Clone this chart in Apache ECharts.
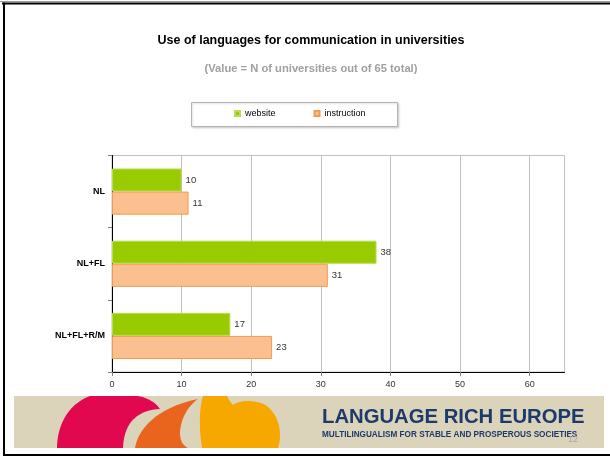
<!DOCTYPE html>
<html>
<head>
<meta charset="utf-8">
<script src="https://cdn.jsdelivr.net/npm/echarts@6/dist/echarts.min.js"></script>
<style>
html,body{margin:0;padding:0;background:#fff;}
#chart{width:610px;height:459px;}
</style>
</head>
<body>
<div id="chart"></div>
<script>
const categories = ['NL', 'NL+FL', 'NL+FL+R/M'];
const website = [10, 38, 17];
const instruction = [11, 31, 23];
const seriesNames = ['website', 'instruction'];
const axisMin = 0, axisMax = 65, axisStep = 10;

const chart = echarts.init(document.getElementById('chart'), null, {renderer: 'canvas'});
const FONT = '"Liberation Sans", Arial, sans-serif';

// decorative logo outlines: start point + list of cubic segments [c1x,c1y,c2x,c2y,x,y] or lines [x,y]
function outline(start, segs) {
  const pts = [start.slice()];
  let cur = start.slice();
  segs.forEach(s => {
    if (s.length === 2) { pts.push(s.slice()); cur = s.slice(); return; }
    for (let i = 1; i <= 16; i++) {
      const t = i / 16, u = 1 - t;
      const x = u*u*u*cur[0] + 3*u*u*t*s[0] + 3*u*t*t*s[2] + t*t*t*s[4];
      const y = u*u*u*cur[1] + 3*u*u*t*s[1] + 3*u*t*t*s[3] + t*t*t*s[5];
      pts.push([x, y]);
    }
    cur = [s[4], s[5]];
  });
  return pts;
}
const redShape = outline([57,448], [[57,428,66,405,90,396],[138,396],[148,398,155,402,160,409],[140,410,124,420,123,448]]);
const orangeShape = outline([135,448], [[138,430,155,408,198,399],[188,406,181,418,180,432],[180,440,182,445,188,448]]);
const yellowShape = outline([202,448], [[199,430,199,408,203,396],[227,396],[229,400,231,403,233,405],[238,401,248,400,257,402],[270,404,280,418,280,435],[280,441,279,445,278,448]]);

const option = {
  backgroundColor: '#ffffff',
  animation: false,
  textStyle: {fontFamily: FONT},
  title: [
    {
      text: 'Use of languages for communication in universities',
      left: 306, top: 29, textAlign: 'center',
      textStyle: {fontFamily: FONT, fontSize: 12.5, fontWeight: 'bold', color: '#000'}
    },
    {
      text: '(Value = N of universities out of 65 total)',
      left: 306, top: 58, textAlign: 'center',
      textStyle: {fontFamily: FONT, fontSize: 11.2, fontWeight: 'bold', color: '#a0a0a0'}
    }
  ],
  legend: {
    data: seriesNames,
    left: 229, top: 104,
    icon: 'rect',
    itemWidth: 5, itemHeight: 5,
    itemGap: 38,
    textStyle: {fontFamily: FONT, fontSize: 9, color: '#000'}
  },
  grid: {
    left: 112, right: 45.5, top: 155.5, bottom: 87,
    show: true, borderColor: '#c0c0c0', borderWidth: 1,
    containLabel: false
  },
  xAxis: {
    type: 'value',
    min: axisMin, max: axisMax, interval: axisStep,
    axisLine: {show: true, lineStyle: {color: '#000', width: 1}},
    axisTick: {show: true, length: 4, lineStyle: {color: '#808080'}},
    splitLine: {show: true, lineStyle: {color: '#c0c0c0', width: 1}},
    axisLabel: {fontFamily: FONT, fontSize: 9, color: '#333', margin: 8, showMaxLabel: false}
  },
  yAxis: {
    type: 'category',
    data: categories,
    inverse: true,
    axisLine: {show: true, lineStyle: {color: '#000', width: 1}},
    axisTick: {show: true, length: 4, lineStyle: {color: '#808080'}},
    splitLine: {show: false},
    axisLabel: {fontFamily: FONT, fontSize: 9, fontWeight: 'bold', color: '#000', margin: 7}
  },
  series: [
    {
      name: seriesNames[0], type: 'bar', data: website,
      barGap: '0%', barCategoryGap: '36%',
      itemStyle: {color: '#99cc00', borderColor: '#b8dc55', borderWidth: 1},
      label: {show: true, position: 'right', distance: 4, fontFamily: FONT, fontSize: 9.5, color: '#333'}
    },
    {
      name: seriesNames[1], type: 'bar', data: instruction,
      barGap: '0%', barCategoryGap: '36%',
      itemStyle: {color: '#fac090', borderColor: '#f39a4e', borderWidth: 1},
      label: {show: true, position: 'right', distance: 4, fontFamily: FONT, fontSize: 9.5, color: '#333'}
    }
  ],
  graphic: [
    {type: 'line', shape: {x1: 0, y1: 1.5, x2: 610, y2: 1.5}, style: {stroke: '#9a9a9a', lineWidth: 1}, silent: true},
    {type: 'line', shape: {x1: 2, y1: 3.5, x2: 610, y2: 3.5}, style: {stroke: '#000', lineWidth: 2}, silent: true},
    {type: 'line', shape: {x1: 4, y1: 2.5, x2: 4, y2: 456}, style: {stroke: '#000', lineWidth: 2}, silent: true},
    {type: 'line', shape: {x1: 3, y1: 455, x2: 610, y2: 455}, style: {stroke: '#000', lineWidth: 2}, silent: true},
    {type: 'rect', z: -1, shape: {x: 191.5, y: 102.5, width: 206, height: 24},
      style: {fill: '#fff', stroke: '#b4b4b4', lineWidth: 1, shadowBlur: 2, shadowColor: 'rgba(0,0,0,0.15)', shadowOffsetX: 1, shadowOffsetY: 1}, silent: true},
    {type: 'rect', shape: {x: 14, y: 396, width: 590, height: 52}, style: {fill: '#dcd3bb'}, silent: true},
    {type: 'polygon', shape: {points: redShape}, style: {fill: '#e1084f'}, silent: true},
    {type: 'polygon', shape: {points: orangeShape}, style: {fill: '#e9641c'}, silent: true},
    {type: 'polygon', shape: {points: yellowShape}, style: {fill: '#f6a800'}, silent: true},
    {type: 'text', x: 322, y: 417, style: {text: 'LANGUAGE RICH EUROPE', fill: '#1c3a6c', font: 'bold 20.3px "Liberation Sans", Arial, sans-serif', verticalAlign: 'middle'}, silent: true},
    {type: 'text', x: 322, y: 435, style: {text: 'MULTILINGUALISM FOR STABLE AND PROSPEROUS SOCIETIES', fill: '#1c3a6c', font: 'bold 8.2px "Liberation Sans", Arial, sans-serif', verticalAlign: 'middle'}, silent: true},
    {type: 'text', x: 573, y: 440, style: {text: '12', fill: '#a8a8a8', font: '9px "Liberation Sans", Arial, sans-serif', align: 'center', verticalAlign: 'middle'}, silent: true}
  ]
};
chart.setOption(option);
</script>
</body>
</html>
